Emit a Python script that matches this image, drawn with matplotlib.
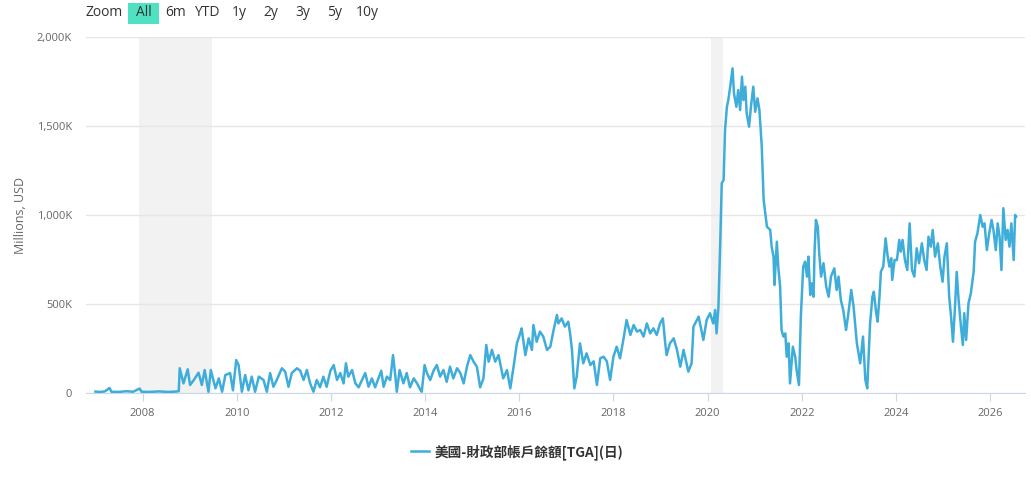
import matplotlib
matplotlib.use('Agg')
import matplotlib.pyplot as plt
from matplotlib.patches import Rectangle

plt.rcParams['font.family'] = ['Open Sans', 'Noto Sans CJK TC', 'DejaVu Sans']

# TGA balance, thousands of millions USD (shown with a K suffix)
years_a = [2007.00, 2007.10, 2007.20, 2007.30, 2007.34, 2007.50, 2007.65, 2007.80, 2007.94, 2007.98,
           2008.15, 2008.35, 2008.55, 2008.70, 2008.77]
vals_a = [8, 6, 9, 28, 7, 6, 10, 7, 25, 7,
          6, 9, 6, 8, 10]

years_b = [2008.79, 2008.87, 2008.96, 2009.01, 2009.09, 2009.19, 2009.26, 2009.32, 2009.40, 2009.45,
           2009.55, 2009.62, 2009.69, 2009.76, 2009.86, 2009.92, 2009.99, 2010.04, 2010.11, 2010.18,
           2010.25, 2010.32, 2010.39, 2010.47, 2010.57, 2010.64, 2010.71, 2010.78, 2010.85, 2010.96,
           2011.03, 2011.10, 2011.17, 2011.28]
vals_b = [139, 54, 133, 45, 73, 114, 45, 129, 7, 129,
          26, 82, 7, 101, 112, 15, 185, 157, 7, 101,
          15, 92, 7, 92, 73, 7, 112, 35, 73, 139,
          120, 35, 112, 139]

years_c = [2011.35, 2011.42, 2011.49, 2011.56, 2011.63, 2011.70, 2011.77, 2011.84, 2011.91, 2011.99,
           2012.06, 2012.13, 2012.20, 2012.27, 2012.32, 2012.37, 2012.45, 2012.52, 2012.59, 2012.66,
           2012.73, 2012.80, 2012.87, 2012.94, 2013.01, 2013.07, 2013.12, 2013.19, 2013.26, 2013.32,
           2013.37, 2013.40, 2013.46, 2013.54, 2013.61, 2013.68, 2013.76, 2013.83, 2013.90, 2013.93,
           2013.99, 2014.04, 2014.11, 2014.18, 2014.25, 2014.32, 2014.39, 2014.46, 2014.53, 2014.60,
           2014.68, 2014.75, 2014.82, 2014.89, 2014.96, 2015.03, 2015.10, 2015.17, 2015.24, 2015.30,
           2015.35, 2015.42, 2015.49, 2015.56]
vals_c = [125, 73, 129, 54, 7, 73, 32, 92, 35, 125,
          157, 73, 112, 54, 167, 92, 129, 54, 32, 73,
          112, 35, 82, 32, 82, 125, 35, 92, 73, 213,
          92, 7, 129, 54, 112, 32, 82, 54, 18, 7,
          157, 112, 73, 125, 157, 92, 129, 63, 148, 82,
          139, 112, 54, 148, 213, 176, 148, 32, 82, 270,
          176, 242, 176, 213]

years_d = [2015.66, 2015.74, 2015.81, 2015.88, 2015.95, 2016.02, 2016.05, 2016.13, 2016.20, 2016.27,
           2016.30, 2016.37, 2016.44, 2016.51, 2016.59, 2016.66, 2016.73, 2016.80, 2016.83, 2016.90,
           2016.97, 2017.04, 2017.08, 2017.12, 2017.17, 2017.22, 2017.29, 2017.36, 2017.43, 2017.51,
           2017.58, 2017.65, 2017.72, 2017.79, 2017.86, 2017.93, 2018.00, 2018.07, 2018.14, 2018.21,
           2018.28, 2018.36, 2018.43, 2018.50, 2018.57, 2018.64, 2018.71, 2018.78, 2018.85, 2018.92,
           2018.99, 2019.05, 2019.10, 2019.13, 2019.20, 2019.28, 2019.35, 2019.42, 2019.49, 2019.56,
           2019.59, 2019.66]
vals_d = [82, 129, 26, 148, 279, 335, 363, 213, 307, 242,
          382, 288, 345, 317, 242, 260, 354, 438, 391, 419,
          373, 401, 335, 242, 26, 92, 279, 167, 223, 157,
          178, 45, 195, 204, 178, 73, 204, 260, 195, 298,
          410, 326, 382, 345, 354, 317, 391, 335, 363, 326,
          391, 419, 279, 213, 279, 307, 242, 148, 242, 157,
          120, 167]

years_e = [2019.70, 2019.81, 2019.91, 2019.98, 2020.05, 2020.12, 2020.16, 2020.19, 2020.23, 2020.27,
           2020.30, 2020.34, 2020.37, 2020.41, 2020.44, 2020.48, 2020.53, 2020.56, 2020.61, 2020.65,
           2020.69, 2020.73, 2020.76, 2020.80, 2020.83, 2020.88, 2020.92, 2020.97, 2021.01, 2021.06,
           2021.10, 2021.15]
vals_e = [373, 429, 298, 410, 448, 391, 466, 335, 485, 860,
          1178, 1197, 1478, 1608, 1646, 1721, 1824, 1684, 1608, 1702,
          1590, 1777, 1646, 1721, 1571, 1496, 1608, 1721, 1580, 1655,
          1590, 1384]

years_f = [2021.19, 2021.26, 2021.33, 2021.36, 2021.40, 2021.42, 2021.47, 2021.50, 2021.54, 2021.57,
           2021.61, 2021.65, 2021.68, 2021.72, 2021.75, 2021.81, 2021.86, 2021.89, 2021.94, 2021.98,
           2022.03, 2022.07, 2022.11, 2022.14, 2022.18, 2022.21, 2022.25, 2022.27, 2022.30, 2022.34,
           2022.37, 2022.41, 2022.46, 2022.52, 2022.57, 2022.62, 2022.69, 2022.74, 2022.78, 2022.83,
           2022.88, 2022.94, 2022.99, 2023.05, 2023.10, 2023.17, 2023.24, 2023.30, 2023.35, 2023.39]
vals_f = [1084, 934, 916, 822, 766, 607, 850, 710, 597, 354,
          317, 335, 204, 279, 54, 260, 204, 129, 45, 429,
          710, 738, 654, 766, 551, 616, 541, 785, 972, 934,
          785, 654, 729, 597, 541, 654, 700, 579, 654, 522,
          466, 354, 448, 579, 485, 279, 167, 317, 73, 26]

years_g = [2023.45, 2023.50, 2023.53, 2023.58, 2023.61, 2023.65, 2023.68, 2023.73, 2023.78, 2023.82,
           2023.86, 2023.90, 2023.92, 2023.97, 2024.02, 2024.07, 2024.10, 2024.14, 2024.19, 2024.24,
           2024.29, 2024.34, 2024.39, 2024.44, 2024.49, 2024.55, 2024.60, 2024.65, 2024.69, 2024.74,
           2024.78, 2024.83, 2024.89, 2024.94, 2024.99, 2025.03, 2025.08, 2025.13, 2025.17, 2025.21,
           2025.25, 2025.29, 2025.33, 2025.38, 2025.42, 2025.45, 2025.49, 2025.54, 2025.59, 2025.65,
           2025.68, 2025.73, 2025.79, 2025.84, 2025.88, 2025.93, 2025.98, 2026.03, 2026.07, 2026.12,
           2026.16, 2026.20, 2026.24, 2026.28, 2026.33, 2026.37, 2026.41, 2026.45, 2026.50, 2026.53,
           2026.55]
vals_g = [391, 541, 569, 448, 401, 541, 682, 710, 869, 775,
          710, 757, 635, 747, 747, 860, 794, 860, 747, 691,
          953, 691, 654, 813, 729, 841, 747, 691, 878, 822,
          916, 766, 841, 710, 625, 766, 841, 541, 429, 288,
          466, 680, 522, 373, 270, 448, 298, 504, 560, 682,
          850, 897, 1000, 934, 953, 803, 897, 972, 916, 803,
          953, 878, 691, 1038, 860, 916, 822, 953, 747, 1000,
          991]

tga_years = years_a + years_b + years_c + years_d + years_e + years_f + years_g
tga_vals = vals_a + vals_b + vals_c + vals_d + vals_e + vals_f + vals_g

# recession periods (shaded)
recessions = [(2007.92, 2009.47), (2020.08, 2020.32)]

x_ticks = list(range(2008, 2027, 2))
y_ticks = [0, 500, 1000, 1500, 2000]
y_labels = ['0', '500K', '1,000K', '1,500K', '2,000K']
series_name = '美國-財政部帳戶餘額[TGA](日)'

W, H = 1031, 491
fig = plt.figure(figsize=(W / 100, H / 100), dpi=100)
ax = fig.add_axes([86 / W, 1 - 393 / H, (1025 - 86) / W, (393 - 37) / H])

for start, end in recessions:
    ax.axvspan(start, end, color='#f2f2f2', lw=0, zorder=0)

ax.plot(tga_years, tga_vals, color='#3fadd9', lw=1.8, label=series_name, zorder=3)

ax.set_xlim(2006.80, 2026.74)
ax.set_ylim(0, 2000)
ax.set_xticks(x_ticks)
ax.set_xticklabels([str(y) for y in x_ticks])
ax.set_yticks(y_ticks)
ax.set_yticklabels(y_labels)
ax.yaxis.grid(True, color='#e6e6e6', lw=1)
ax.set_axisbelow(True)
for side in ['top', 'right', 'left']:
    ax.spines[side].set_visible(False)
ax.spines['bottom'].set_color('#ccd6eb')
ax.tick_params(axis='x', length=6, color='#ccd6eb', labelcolor='#666666', labelsize=8, pad=5)
ax.tick_params(axis='y', length=0, labelcolor='#666666', labelsize=8, pad=10)
ax.set_ylabel('Millions, USD', color='#666666', fontsize=9, labelpad=7)

# range selector buttons
btn_y = 1 - 13 / H
fig.text(104 / W, btn_y, 'Zoom', ha='center', va='center', fontsize=10, color='#333333')
fig.add_artist(Rectangle((128 / W, 1 - 23.5 / H), 31 / W, 20.5 / H, transform=fig.transFigure,
                         facecolor='#4fe1c1', edgecolor='none'))
buttons = [('All', 143.5), ('6m', 176), ('YTD', 207), ('1y', 239), ('2y', 271),
           ('3y', 303), ('5y', 335), ('10y', 367.5)]
for txt, bx in buttons:
    fig.text(bx / W, btn_y, txt, ha='center', va='center', fontsize=10, color='#333333')

leg = ax.legend(loc='center', bbox_to_anchor=(517 / W, 1 - 452 / H), bbox_transform=fig.transFigure,
                frameon=False, handlelength=1.3, handletextpad=0.4,
                prop={'family': ['Noto Sans CJK TC', 'DejaVu Sans'], 'size': 9.8, 'weight': 'bold'})
for t in leg.get_texts():
    t.set_color('#333333')

fig.savefig('out.png', dpi=100)
